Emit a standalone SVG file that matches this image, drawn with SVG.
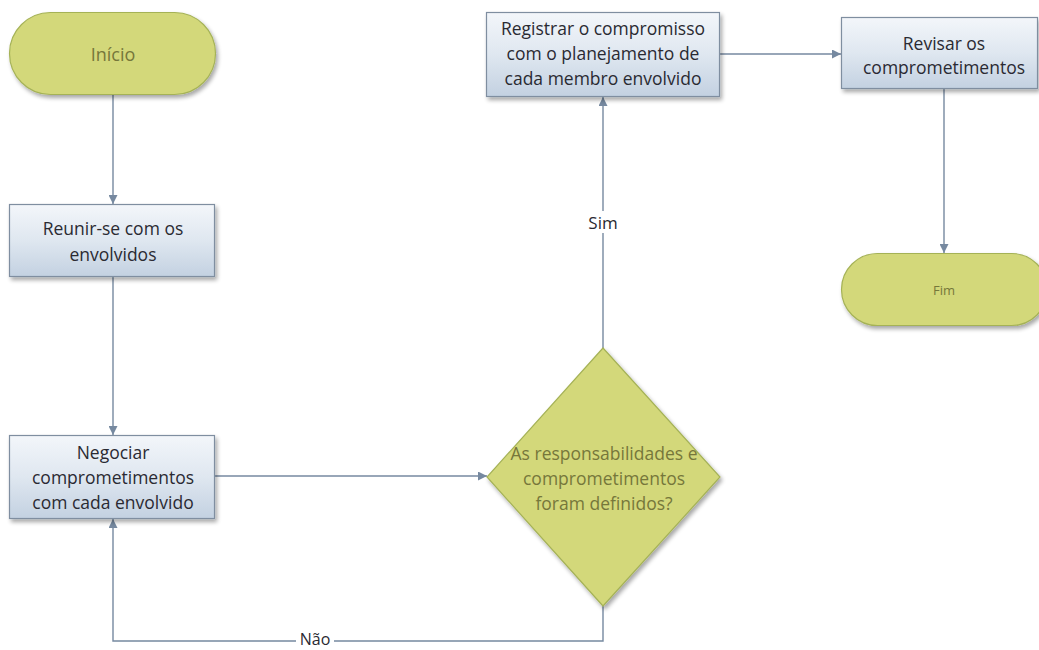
<svg xmlns="http://www.w3.org/2000/svg" width="1039" height="650" viewBox="0 0 1039 650">
  <style>
    .term { fill: #d3d87a; stroke: #a5b257; stroke-width: 1.2; }
    .proc { fill: url(#procFill); stroke: #7f8ea0; stroke-width: 1.2; }
    .dec { fill: #d3d87a; stroke: #a5b257; stroke-width: 1.2; }
    .lbl { font-family: "Open Sans", "Liberation Sans", sans-serif; font-size: 17.5px; text-anchor: middle; dominant-baseline: central; }
    .dark { fill: #2a2a32; }
    .olive { fill: #76773a; }
    .conn { fill: none; stroke: #7689a0; stroke-width: 1.4; }
    .edge-lbl { font-family: "Open Sans", "Liberation Sans", sans-serif; font-size: 17px; text-anchor: middle; dominant-baseline: central; fill: #2a2a32; }
  </style>
  <defs>
    <linearGradient id="procFill" x1="0" y1="0" x2="0" y2="1">
      <stop offset="0" stop-color="#f3f6fa"/>
      <stop offset="0.5" stop-color="#dfe7f0"/>
      <stop offset="1" stop-color="#c3d1e1"/>
    </linearGradient>
    <filter id="shadow" x="-10%" y="-10%" width="125%" height="130%">
      <feGaussianBlur in="SourceAlpha" stdDeviation="2"/>
      <feOffset dx="2" dy="3" result="b"/>
      <feComponentTransfer><feFuncA type="linear" slope="0.35"/></feComponentTransfer>
      <feMerge><feMergeNode/><feMergeNode in="SourceGraphic"/></feMerge>
    </filter>
    <marker id="arrow" viewBox="0 0 10 10" refX="10" refY="5" markerWidth="9" markerHeight="9" markerUnits="userSpaceOnUse" orient="auto">
      <path d="M0,0 L10,5 L0,10 z" fill="#7689a0"/>
    </marker>
  </defs>

  <g id="connectors">
    <path class="conn" d="M113,95 V204" marker-end="url(#arrow)"/>
    <path class="conn" d="M113,277 V435" marker-end="url(#arrow)"/>
    <path class="conn" d="M215,476 H487" marker-end="url(#arrow)"/>
    <path class="conn" d="M603,348 V97" marker-end="url(#arrow)"/>
    <path class="conn" d="M720,54 H841" marker-end="url(#arrow)"/>
    <path class="conn" d="M944,88 V253" marker-end="url(#arrow)"/>
    <path class="conn" d="M603,606 V641 H113 V519" marker-end="url(#arrow)"/>
    <rect x="584" y="211" width="38" height="22" fill="#ffffff"/>
    <text class="edge-lbl" x="603" y="222">Sim</text>
    <rect x="296" y="632" width="38" height="18" fill="#ffffff"/>
    <text class="edge-lbl" x="315" y="639" style="font-size:16px">Não</text>
  </g>

  <g id="inicio">
    <rect class="term" x="9.5" y="12.5" width="206" height="82" rx="41" ry="41" filter="url(#shadow)"/>
    <text class="lbl olive" x="113" y="54" style="font-size:18px">Início</text>
  </g>

  <g id="reunir">
    <rect class="proc" x="9.5" y="204.5" width="205" height="72" filter="url(#shadow)"/>
    <text class="lbl dark" x="113" y="228">Reunir-se com os</text>
    <text class="lbl dark" x="113" y="254">envolvidos</text>
  </g>

  <g id="negociar">
    <rect class="proc" x="9.5" y="435.5" width="205" height="83" filter="url(#shadow)"/>
    <text class="lbl dark" x="113" y="452">Negociar</text>
    <text class="lbl dark" x="113" y="477">comprometimentos</text>
    <text class="lbl dark" x="113" y="502">com cada envolvido</text>
  </g>

  <g id="decisao">
    <polygon class="dec" points="603,348 720,477 603,606 487,477" filter="url(#shadow)"/>
    <text class="lbl olive" x="604" y="453">As responsabilidades e</text>
    <text class="lbl olive" x="604" y="478">comprometimentos</text>
    <text class="lbl olive" x="604" y="503">foram definidos?</text>
  </g>

  <g id="registrar">
    <rect class="proc" x="486.5" y="12.5" width="233" height="84" filter="url(#shadow)"/>
    <text class="lbl dark" x="603" y="28">Registrar o compromisso</text>
    <text class="lbl dark" x="603" y="53">com o planejamento de</text>
    <text class="lbl dark" x="603" y="78">cada membro envolvido</text>
  </g>

  <g id="revisar">
    <rect class="proc" x="841.5" y="17.5" width="196" height="71" filter="url(#shadow)"/>
    <text class="lbl dark" x="944" y="43">Revisar os</text>
    <text class="lbl dark" x="944" y="67">comprometimentos</text>
  </g>

  <g id="fim">
    <rect class="term" x="841.5" y="253.5" width="206" height="72" rx="36" ry="36" filter="url(#shadow)"/>
    <text class="lbl olive" x="944" y="290" style="font-size:13px">Fim</text>
  </g>
</svg>
